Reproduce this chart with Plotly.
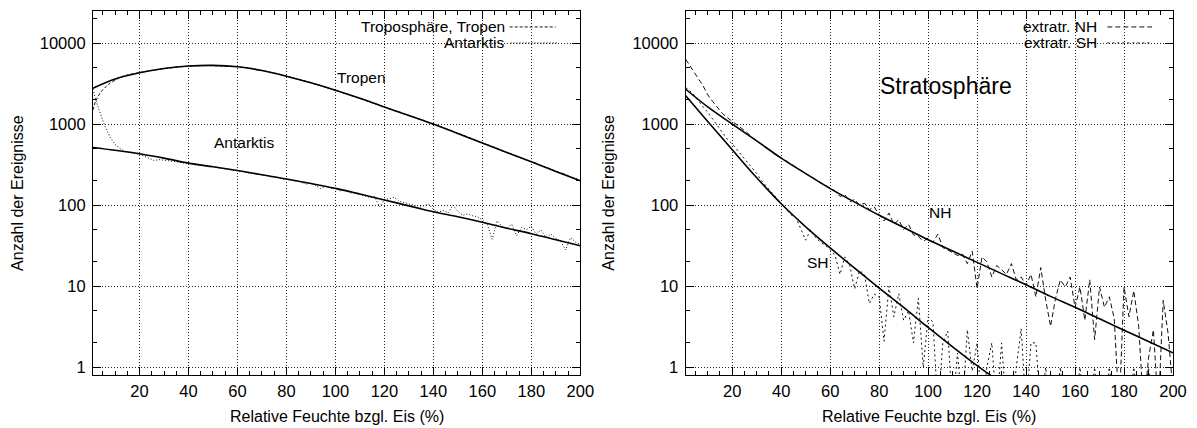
import plotly.graph_objects as go

# ---------------- data ----------------
x_data = [1, 2, 4, 6, 8, 10, 12, 14, 16, 18,
          20, 22, 24, 26, 28, 30, 32, 34, 36, 38,
          40, 42, 44, 46, 48, 50, 52, 54, 56, 58,
          60, 62, 64, 66, 68, 70, 72, 74, 76, 78,
          80, 82, 84, 86, 88, 90, 92, 94, 96, 98,
          100, 102, 104, 106, 108, 110, 112, 114, 116, 118,
          120, 122, 124, 126, 128, 130, 132, 134, 136, 138,
          140, 142, 144, 146, 148, 150, 152, 154, 156, 158,
          160, 162, 164, 166, 168, 170, 172, 174, 176, 178,
          180, 182, 184, 186, 188, 190, 192, 194, 196, 198,
          200]

tropen_data = [1500, 1900, 2450, 2850, 3200, 3500, 3780, 3950, 4120, 4200,
               4330, 4420, 4560, 4620, 4780, 4830, 4950, 5000, 5080, 5150,
               5180, 5240, 5260, 5300, 5280, 5310, 5260, 5250, 5200, 5150,
               5120, 5020, 4950, 4850, 4700, 4600, 4480, 4320, 4200, 4030,
               3900, 3780, 3630, 3520, 3360, 3230, 3110, 2970, 2850, 2720,
               2620, 2500, 2400, 2280, 2190, 2080, 1980, 1880, 1800, 1700,
               1620, 1550, 1470, 1420, 1340, 1280, 1220, 1150, 1110, 1040,
               1000, 950, 900, 860, 810, 765, 740, 690, 660, 615,
               585, 560, 530, 505, 470, 447, 428, 405, 385, 360,
               342, 330, 305, 295, 280, 261, 252, 240, 222, 214,
               200]

antarktis_data = [2700, 2050, 1350, 920, 690, 560, 500, 460, 445, 430,
                  425, 400, 380, 355, 365, 360, 350, 345, 340, 330,
                  328, 315, 312, 305, 300, 302, 290, 282, 278, 270,
                  265, 262, 250, 245, 240, 238, 232, 222, 225, 210,
                  208, 204, 198, 193, 182, 186, 175, 160, 170, 162,
                  160, 150, 155, 142, 140, 136, 130, 125, 128, 95,
                  118, 120, 125, 112, 108, 104, 100, 93, 98, 104,
                  88, 82, 86, 80, 100, 84, 75, 78, 74, 72,
                  66, 58, 38, 64, 55, 52, 58, 42, 53, 50,
                  55, 44, 49, 40, 44, 39, 36, 28, 40, 35,
                  33]

nh_data = [6300, 5700, 4600, 3700, 3000, 2300, 1900, 1600, 1350, 1200,
           1080, 960, 860, 790, 690, 620, 570, 510, 460, 415,
           385, 350, 320, 295, 268, 245, 228, 208, 188, 176,
           162, 150, 128, 135, 110, 118, 100, 106, 88, 95,
           76, 64, 80, 58, 66, 50, 58, 43, 41, 36,
           39, 35, 44, 30, 28, 26, 24, 25, 19, 27,
           9.4, 23, 20, 13, 18, 16, 14, 19, 12, 13,
           10.3, 14, 7.4, 17, 6.8, 3.2, 7, 12, 9.8, 13,
           5.5, 9.8, 3.8, 12, 2.2, 9.8, 5.5, 7.4, 4, 0.3,
           9.8, 4.2, 8.8, 3.2, 0.3, 1.3, 2.9, 0.3, 6.7, 2.6,
           0.5]

sh_data = [2800, 2700, 2350, 2000, 1650, 1400, 1150, 950, 800, 650,
           570, 480, 410, 340, 295, 245, 200, 170, 145, 122,
           104, 90, 76, 70, 52, 37, 50, 40, 35, 32,
           28, 24, 14, 23, 18, 9.3, 15.6, 14, 6.1, 8,
           7.4, 2.1, 10, 4.2, 8.1, 3.8, 5, 2, 7.1, 1,
           4.2, 3.6, 0.3, 2, 2.8, 0.3, 1.5, 0.3, 2.9, 0.9,
           2, 0.3, 1, 2, 0.3, 2, 0.3, 0.3, 1, 3,
           0.3, 2, 2, 0.3, 1, 0.3, 0.3, 1, 0.3, 0.3,
           0.3, 1, 0.3, 0.3, 1, 0.3, 0.3, 1, 0.3, 0.3,
           0.3, 0.3, 1, 0.3, 0.3, 1, 0.3, 0.3, 0.3, 0.3,
           0.3]

x_fit = [1, 10, 20, 30, 40, 50, 60, 70, 80, 90, 100,
         110, 120, 130, 140, 150, 160, 170, 180, 190, 200]
tropen_fit = [2770, 3600, 4300, 4850, 5200, 5300, 5100, 4580, 3900, 3230, 2620,
              2080, 1620, 1280, 1000, 765, 585, 447, 342, 261, 200]
antarktis_fit = [515, 475, 430, 380, 330, 297, 267, 237, 210, 185, 161,
                 137, 116, 98, 83, 72, 61.6, 52, 44.5, 37.5, 31.6]
nh_fit = [2690, 1630, 1000, 620, 380, 245, 160, 109, 75, 53, 37.5,
          27.2, 19.7, 14.3, 10.4, 7.5, 5.5, 3.96, 2.87, 2.08, 1.51]
x_fit_sh = [1, 10, 20, 30, 40, 50, 60, 70, 80, 90, 100, 110, 120, 130]
sh_fit = [2230, 1079, 482, 218, 104, 54.1, 29.7, 16.7, 9.5, 5.47, 3.1, 1.79, 1.05, 0.64]

x_ticks = [20, 40, 60, 80, 100, 120, 140, 160, 180, 200]
y_ticks = [1, 10, 100, 1000, 10000]
y_minor = [2, 5, 20, 50, 200, 500, 2000, 5000, 20000]

# ---------------- styling ----------------
FONT = "Liberation Sans, Arial, Helvetica, sans-serif"
W, H = 1197, 428
L, R, T, B = 93, 1179, 10, 375
PW, PH = R - L, B - T


def px(xp):
    return (xp - L) / PW


def py(yp):
    return (B - yp) / PH


DASH_TROP = "3px,2px"
DASH_ANT = "1px,2px"
DASH_NH = "5px,3px"
DASH_SH = "2px,3px"

fig = go.Figure()


def add(x, y, xa, ya, dash, width, color, shape="linear"):
    fig.add_trace(go.Scatter(x=x, y=y, xaxis=xa, yaxis=ya, mode="lines",
                             line=dict(color=color, width=width, dash=dash, shape=shape),
                             showlegend=False, hoverinfo="skip"))


add(x_data, tropen_data, "x", "y", DASH_TROP, 1, "#111")
add(x_data, antarktis_data, "x", "y", DASH_ANT, 1, "#111")
add(x_fit, tropen_fit, "x", "y", "solid", 1.6, "black", "spline")
add(x_fit, antarktis_fit, "x", "y", "solid", 1.6, "black", "spline")

add(x_data, nh_data, "x2", "y2", DASH_NH, 1, "#111")
add(x_data, sh_data, "x2", "y2", DASH_SH, 1, "#111")
add(x_fit, nh_fit, "x2", "y2", "solid", 1.6, "black", "spline")
add(x_fit_sh, sh_fit, "x2", "y2", "solid", 1.6, "black", "spline")

tickfont = dict(family=FONT, size=16.5, color="black")


def xaxis(domain, anchor):
    return dict(domain=domain, anchor=anchor, range=[1, 200],
                tickmode="array", tickvals=x_ticks, ticktext=[str(v) for v in x_ticks],
                ticks="inside", ticklen=8, tickwidth=1, tickcolor="black",
                showline=True, linecolor="black", linewidth=1.2, mirror="allticks",
                showgrid=True, gridcolor="#222", gridwidth=1, griddash="1px,2px",
                zeroline=False, tickfont=tickfont, ticklabelstandoff=1,
                minor=dict(tickmode="linear", tick0=0, dtick=5, ticks="inside",
                           ticklen=4, tickcolor="black", tickwidth=1, showgrid=False))


def yaxis(anchor):
    return dict(domain=[0, 1], anchor=anchor, type="log", range=[-0.095, 4.395],
                tickmode="array", tickvals=y_ticks, ticktext=[str(v) for v in y_ticks],
                ticks="inside", ticklen=8, tickwidth=1, tickcolor="black",
                showline=True, linecolor="black", linewidth=1.2, mirror="allticks",
                showgrid=True, gridcolor="#222", gridwidth=1, griddash="1px,2px",
                zeroline=False, tickfont=tickfont, ticklabelstandoff=3,
                minor=dict(tickmode="array", tickvals=y_minor, ticks="inside",
                           ticklen=4, tickcolor="black", tickwidth=1, showgrid=False))


d1 = [0, (583 - L) / PW]
d2 = [(689 - L) / PW, 1]

fig.update_layout(
    width=W, height=H,
    margin=dict(l=L, r=W - R, t=T, b=H - B, pad=0),
    paper_bgcolor="white", plot_bgcolor="white",
    font=dict(family=FONT, size=15, color="black"),
    xaxis=xaxis(d1, "y"), yaxis=yaxis("x"),
    xaxis2=xaxis(d2, "y2"), yaxis2=yaxis("x2"),
    showlegend=False,
)

shapes = []
# key boxes (opaque, hide grid)
for x0, x1 in [(270, 578), (995, 1175)]:
    shapes.append(dict(type="rect", xref="paper", yref="paper", x0=px(x0), x1=px(x1),
                       y0=py(50), y1=py(11), fillcolor="white", line=dict(width=0),
                       layer="between"))
# key samples
for x0, x1, yp, dash in [(512, 558, 26, DASH_TROP), (513, 560, 42, DASH_ANT),
                         (1113, 1158, 26, DASH_NH), (1113, 1156, 42, DASH_SH)]:
    shapes.append(dict(type="line", xref="paper", yref="paper", x0=px(x0), x1=px(x1),
                       y0=py(yp), y1=py(yp), line=dict(color="#111", width=1, dash=dash)))
fig.update_layout(shapes=shapes)

ann = []


def text(t, xp, yp, size=15.5, xanchor="center", angle=0):
    ann.append(dict(text=t, xref="paper", yref="paper", x=px(xp), y=py(yp),
                    xanchor=xanchor, yanchor="middle", showarrow=False, textangle=angle,
                    borderpad=0, font=dict(family=FONT, size=size, color="black")))


text("Troposphäre, Tropen", 508, 26, xanchor="right")
text("Antarktis", 508, 42, xanchor="right")
text("extratr. NH", 1104, 26, xanchor="right")
text("extratr. SH", 1104, 42, xanchor="right")
text("Tropen", 363, 77)
text("Antarktis", 245, 142)
text("Stratosphäre", 951, 85, size=23)
text("NH", 945, 212)
text("SH", 822, 262)
text("Anzahl der Ereignisse", 17, 192, size=16, angle=-90)
text("Anzahl der Ereignisse", 611, 192, size=16, angle=-90)
text("Relative Feuchte bzgl. Eis (%)", 338, 417, size=16)
text("Relative Feuchte bzgl. Eis (%)", 934, 417, size=16)
fig.update_layout(annotations=ann)

fig.write_html("out.html", config={"displayModeBar": False},
               post_script="document.body.style.margin='0';document.body.style.overflow='hidden';")
